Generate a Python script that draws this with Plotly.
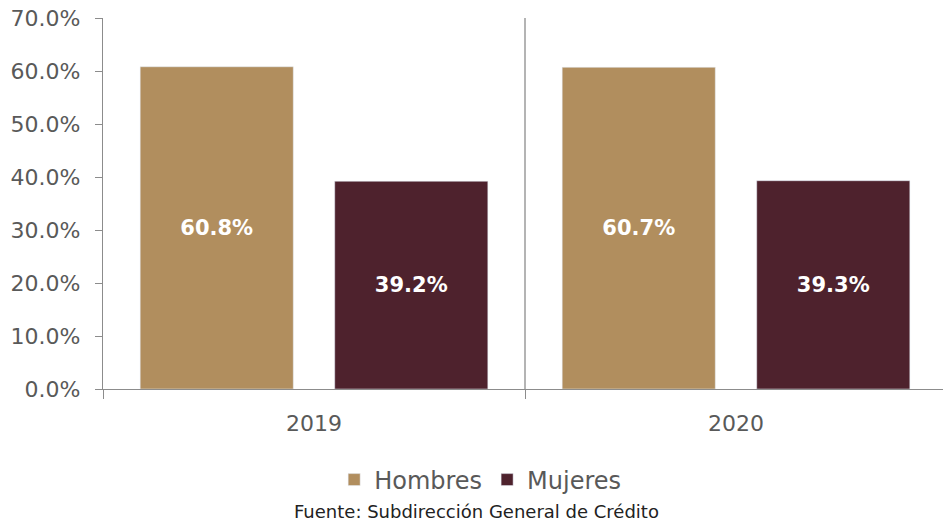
import plotly.graph_objects as go

years = ["2019", "2020"]
hombres = [60.8, 60.7]
mujeres = [39.2, 39.3]
y_ticks = [0, 10, 20, 30, 40, 50, 60, 70]
y_tick_labels = [f"{v:.1f}%" for v in y_ticks]

FONT = "DejaVu Sans"
GRAY = "#8c8c8c"
TEXT = "#595959"
x_pos = list(range(len(years)))

TOP, BOTTOM = 18, 133
plot_h = 522 - TOP - BOTTOM

fig = go.Figure()
fig.add_trace(go.Bar(
    name="Hombres", x=x_pos, y=hombres, marker_color="#B18E5E",
    text=[f"{v:.1f}%" for v in hombres], textposition="inside",
    insidetextanchor="middle",
    textfont=dict(family=FONT, size=21, color="white", weight="bold"),
))
fig.add_trace(go.Bar(
    name="Mujeres", x=x_pos, y=mujeres, marker_color="#4E222D",
    text=[f"{v:.1f}%" for v in mujeres], textposition="inside",
    insidetextanchor="middle",
    textfont=dict(family=FONT, size=21, color="white", weight="bold"),
))

# divider between the two year groups
fig.add_shape(type="line", x0=0.5, x1=0.5, y0=0, y1=70, xref="x", yref="y",
              line=dict(color=GRAY, width=1.3))

fig.update_layout(
    width=943, height=522,
    margin=dict(l=103, r=0, t=TOP, b=BOTTOM),
    paper_bgcolor="white", plot_bgcolor="white",
    barmode="group", bargap=0.078, bargroupgap=0.213,
    font=dict(family=FONT, color=TEXT),
    showlegend=True,
    legend=dict(orientation="h", x=0.449, xref="paper", xanchor="center",
                y=-(480 - (522 - BOTTOM)) / plot_h, yanchor="middle",
                font=dict(size=24, color=TEXT),
                itemwidth=30, traceorder="normal"),
    xaxis=dict(
        range=[-0.5, 1.4905], tickvals=x_pos, ticktext=years,
        ticks="", showline=True, linecolor=GRAY, linewidth=1.3,
        tickfont=dict(size=22, color=TEXT), showgrid=False, zeroline=False,
        ticklabelstandoff=14,
        minor=dict(tickvals=[-0.5, 0.5, 1.5], ticks="outside", ticklen=9,
                   tickcolor=GRAY, tickwidth=1.3, showgrid=False),
    ),
    yaxis=dict(
        range=[0, 70], tickvals=y_ticks, ticktext=y_tick_labels,
        ticks="outside", ticklen=7, tickcolor=GRAY, tickwidth=1.3,
        showline=True, linecolor=GRAY, linewidth=1.3,
        showgrid=False, zeroline=False,
        tickfont=dict(size=22, color=TEXT), ticklabelstandoff=10,
    ),
    annotations=[dict(
        text="Fuente: Subdirección General de Crédito",
        x=0.445, xref="paper", xanchor="center",
        y=-(512 - (522 - BOTTOM)) / plot_h, yref="paper", yanchor="middle",
        showarrow=False,
        font=dict(size=18, color="#222222"),
    )],
)

fig.write_html("out.html")
